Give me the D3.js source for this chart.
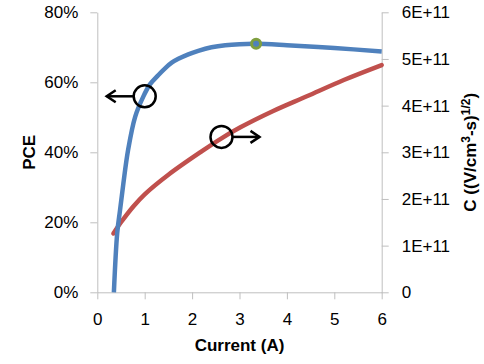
<!DOCTYPE html>
<html>
<head>
<meta charset="utf-8">
<script src="https://cdn.jsdelivr.net/npm/d3@7"></script>
<style>
body { margin: 0; background: #fff; }
text { font-family: "Liberation Sans", Arial, sans-serif; }
</style>
</head>
<body>
<script>
var width = 484;
var height = 364;

// PCE vs current (left axis)
var pceCurrent = [0.35, 0.42, 0.48, 0.55, 0.65, 0.8, 0.97, 1.11, 1.29, 1.43, 1.57, 1.71, 1.92, 2.13, 2.41, 2.7, 3.0, 3.35, 4, 5, 6];
var pceValues = [0, 0.169, 0.235, 0.311, 0.407, 0.502, 0.559, 0.594, 0.621, 0.640, 0.656, 0.667, 0.680, 0.690, 0.700, 0.706, 0.709, 0.710, 0.706, 0.698, 0.688];

// C vs current (right axis)
var cCurrent = [0.34, 0.5, 0.76, 1.0, 1.5, 2.2, 2.62, 3.01, 3.7, 4.42, 5.2, 6];
var cValues = [1.26e11, 1.5e11, 1.84e11, 2.1e11, 2.52e11, 3.02e11, 3.3e11, 3.53e11, 3.88e11, 4.2e11, 4.55e11, 4.87e11];

var peak = [3.35, 0.710];

var xTicks = [0, 1, 2, 3, 4, 5, 6];
var pceTicks = [0, 0.2, 0.4, 0.6, 0.8];
var cTicks = [0, 1e11, 2e11, 3e11, 4e11, 5e11, 6e11];
var cTickLabels = ["0", "1E+11", "2E+11", "3E+11", "4E+11", "5E+11", "6E+11"];

var padding = {top: 12.3, right: 102.3, bottom: 71.7, left: 97.3};
var plotW = width - padding.left - padding.right;
var plotH = height - padding.top - padding.bottom;

var xScale = d3.scaleLinear().domain([0, 6]).range([0, plotW]);
var yScale = d3.scaleLinear().domain([0, 0.8]).range([plotH, 0]);
var cScale = d3.scaleLinear().domain([0, 6e11]).range([plotH, 0]);

var svg = d3.select("body")
.append("svg")
.attr("width", width)
.attr("height", height);

var g = svg.append("g")
.attr("transform", "translate(" + padding.left + "," + padding.top + ")");

var axisColor = "#bfbfbf";

function styleAxis(sel) {
	sel.select(".domain").attr("stroke", axisColor);
	sel.selectAll(".tick line").attr("stroke", axisColor);
	sel.selectAll(".tick text").attr("fill", "#000").attr("font-size", "17px")
	.attr("font-family", "Liberation Sans, Arial, sans-serif");
}

var xAxis = d3.axisBottom(xScale).tickValues(xTicks).tickSize(7).tickSizeOuter(0).tickPadding(14)
.tickFormat(d3.format("d"));
g.append("g")
.attr("transform", "translate(0," + plotH + ")")
.call(xAxis)
.call(styleAxis);

var yAxis = d3.axisLeft(yScale).tickValues(pceTicks).tickSize(7).tickSizeOuter(0).tickPadding(12)
.tickFormat(d3.format(".0%"));
g.append("g")
.call(yAxis)
.call(styleAxis);

var cAxis = d3.axisRight(cScale).tickValues(cTicks).tickSize(7).tickSizeOuter(0).tickPadding(13)
.tickFormat(function(d, i){ return cTickLabels[i]; });
g.append("g")
.attr("transform", "translate(" + plotW + ",0)")
.call(cAxis)
.call(styleAxis);

var pceLine = d3.line()
.x(function(d){ return xScale(d[0]); })
.y(function(d){ return yScale(d[1]); })
.curve(d3.curveCatmullRom.alpha(0.5));

var cLine = d3.line()
.x(function(d){ return xScale(d[0]); })
.y(function(d){ return cScale(d[1]); })
.curve(d3.curveCatmullRom.alpha(0.5));

g.append("path")
.attr("d", cLine(d3.zip(cCurrent, cValues)))
.attr("stroke", "#c0504d")
.attr("stroke-width", 4.5)
.attr("stroke-linecap", "round")
.attr("fill", "none");

g.append("path")
.attr("d", pceLine(d3.zip(pceCurrent, pceValues)))
.attr("stroke", "#4f81bd")
.attr("stroke-width", 4.5)
.attr("fill", "none");

g.append("circle")
.attr("cx", xScale(peak[0]))
.attr("cy", yScale(peak[1]))
.attr("r", 4.5)
.attr("fill", "#4f81bd")
.attr("stroke", "#7f9f3f")
.attr("stroke-width", 3);

// annotation circles with arrows
function marker(cx, cy, dir, len) {
	var r = 11;
	var x1 = cx + dir * r;
	var x2 = x1 + dir * len;
	g.append("line")
	.attr("x1", x1).attr("y1", cy)
	.attr("x2", x2).attr("y2", cy)
	.attr("stroke", "#000").attr("stroke-width", 2.5);
	g.append("path")
	.attr("d", "M" + (x2 - dir * 9) + "," + (cy - 6) + "L" + x2 + "," + cy + "L" + (x2 - dir * 9) + "," + (cy + 6))
	.attr("stroke", "#000").attr("stroke-width", 2.5).attr("fill", "none");
	g.append("circle")
	.attr("cx", cx).attr("cy", cy).attr("r", r)
	.attr("fill", "none").attr("stroke", "#000").attr("stroke-width", 2.5);
}
marker(xScale(1.0), yScale(0.56), -1, 27);
marker(xScale(2.62), cScale(3.33e11), 1, 27);

svg.append("text")
.attr("x", padding.left + plotW / 2)
.attr("y", 351)
.attr("text-anchor", "middle")
.attr("font-size", "17px")
.attr("font-weight", "bold")
.text("Current (A)");

svg.append("text")
.attr("transform", "translate(35," + (padding.top + plotH / 2) + ") rotate(-90)")
.attr("text-anchor", "middle")
.attr("font-size", "17px")
.attr("font-weight", "bold")
.text("PCE");

var cTitle = svg.append("text")
.attr("transform", "translate(476," + (padding.top + plotH / 2) + ") rotate(-90)")
.attr("text-anchor", "middle")
.attr("font-size", "17px")
.attr("font-weight", "bold");
cTitle.append("tspan").text("C ((V/cm");
cTitle.append("tspan").attr("dy", -6).attr("font-size", "12px").text("3");
cTitle.append("tspan").attr("dy", 6).text("-s)");
cTitle.append("tspan").attr("dy", -6).attr("font-size", "12px").text("1/2");
cTitle.append("tspan").attr("dy", 6).text(")");
</script>
</body>
</html>
